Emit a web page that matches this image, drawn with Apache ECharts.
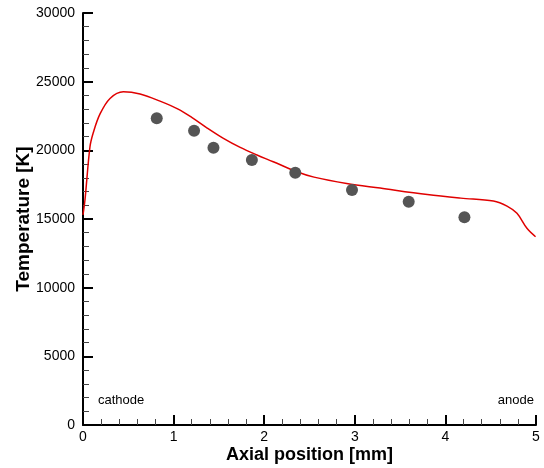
<!DOCTYPE html>
<html>
<head>
<meta charset="utf-8">
<script src="https://cdn.jsdelivr.net/npm/echarts@6/dist/echarts.min.js"></script>
<style>
  html, body { margin: 0; padding: 0; background: #fff; }
  #chart { width: 544px; height: 468px; }
</style>
</head>
<body>
<div id="chart"></div>
<script>
// simulated temperature along the axis
const simX = [0, 0.022, 0.077, 0.114, 0.188, 0.298, 0.445, 0.63, 0.85, 1.05, 1.2, 1.367, 1.55, 1.735, 1.92, 2.10, 2.36, 2.55, 2.91, 3.28, 3.80, 4.17, 4.53, 4.68, 4.79, 4.90, 4.995]
const simT = [15300, 16400, 20260, 21300, 22650, 23780, 24265, 24100, 23580, 23000, 22400, 21640, 20870, 20210, 19660, 19170, 18440, 18050, 17590, 17250, 16780, 16520, 16310, 15940, 15410, 14320, 13710]

// measured points
const expX = [0.814, 1.226, 1.44, 1.864, 2.343, 2.969, 3.595, 4.21]
const expT = [22330, 21430, 20190, 19290, 18370, 17110, 16260, 15120]

const font = '"Liberation Sans", Arial, sans-serif'

const myChart = echarts.init(document.getElementById('chart'))
myChart.setOption({
  animation: false,
  backgroundColor: '#fff',
  grid: { left: 83, right: 8, top: 13, bottom: 43, outerBoundsMode: 'none', containLabel: false },
  xAxis: {
    type: 'value',
    min: 0,
    max: 5,
    interval: 1,
    name: 'Axial position [mm]',
    nameLocation: 'middle',
    nameGap: 21,
    nameMoveOverlap: false,
    nameTextStyle: { fontFamily: font, fontSize: 18, fontWeight: 'bold', color: '#000' },
    axisLine: { lineStyle: { color: '#000', width: 2 } },
    axisTick: { inside: true, length: 10, lineStyle: { color: '#000', width: 2 } },
    minorTick: { show: true, splitNumber: 5, length: 6, lineStyle: { color: '#444', width: 1 } },
    axisLabel: { fontFamily: font, fontSize: 14, color: '#000', margin: 5 },
    splitLine: { show: false }
  },
  yAxis: {
    type: 'value',
    min: 0,
    max: 30000,
    interval: 5000,
    name: 'Temperature [K]',
    nameLocation: 'middle',
    nameGap: 50,
    nameMoveOverlap: false,
    nameTextStyle: { fontFamily: font, fontSize: 19, fontWeight: 'bold', color: '#000' },
    axisLine: { show: true, lineStyle: { color: '#000', width: 2 } },
    axisTick: { show: true, inside: true, length: 10, lineStyle: { color: '#000', width: 2 } },
    minorTick: { show: true, splitNumber: 5, length: 6, lineStyle: { color: '#444', width: 1 } },
    axisLabel: { fontFamily: font, fontSize: 14, color: '#000', margin: 8, formatter: v => String(v) },
    splitLine: { show: false }
  },
  graphic: [
    { type: 'text', left: 98, top: 394, style: { text: 'cathode', font: '13px ' + font, fill: '#000' } },
    { type: 'text', right: 10, top: 394, style: { text: 'anode', font: '13px ' + font, fill: '#000' } }
  ],
  series: [
    {
      type: 'line',
      data: simX.map((x, i) => [x, simT[i]]),
      smooth: 0.35,
      showSymbol: false,
      lineStyle: { color: '#e00000', width: 1.5 },
      z: 2
    },
    {
      type: 'scatter',
      data: expX.map((x, i) => [x, expT[i]]),
      symbol: 'circle',
      symbolSize: 12,
      itemStyle: { color: '#555', opacity: 1 },
      z: 3
    }
  ]
})
</script>
</body>
</html>
